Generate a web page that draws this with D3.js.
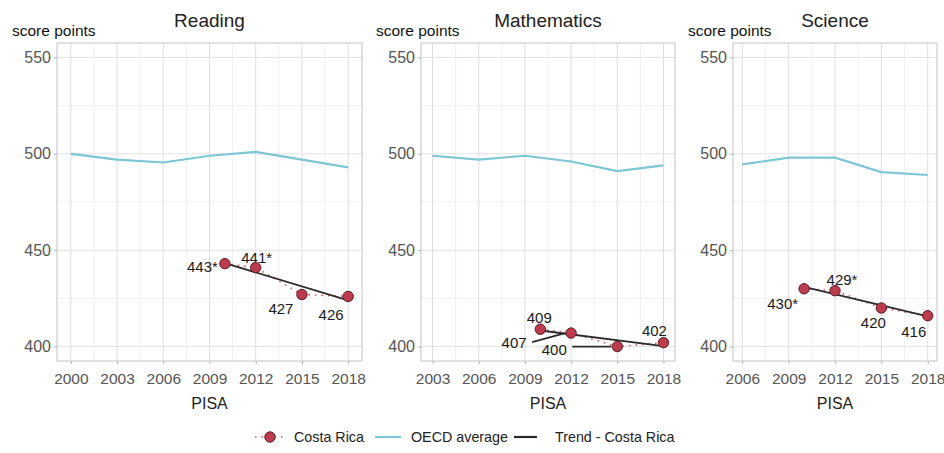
<!doctype html>
<html>
<head>
<meta charset="utf-8">
<title>PISA - Costa Rica</title>
<style>
  body { margin: 0; background: #fff; }
  svg { font-family: "Liberation Sans", Arial, sans-serif; }
</style>
<script src="https://d3js.org/d3.v7.min.js"></script>
</head>
<body>
<svg width="944" height="453"></svg>
<script>
// ---- data ----
var SUBJECTS = ["Reading", "Mathematics", "Science"];

var READING_YEARS = [2000, 2003, 2006, 2009, 2012, 2015, 2018];
var READING_OECD  = [500, 497, 495.5, 499, 501, 497, 493];

var MATH_YEARS = [2003, 2006, 2009, 2012, 2015, 2018];
var MATH_OECD  = [499, 497, 499, 496, 491, 494];

var SCIENCE_YEARS = [2006, 2009, 2012, 2015, 2018];
var SCIENCE_OECD  = [494.5, 498, 498, 490.5, 489];

var CR_YEARS = [2010, 2012, 2015, 2018];
var CR_READING = [443, 441, 427, 426];
var CR_MATH    = [409, 407, 400, 402];
var CR_SCIENCE = [430, 429, 420, 416];
var CR_READING_LABELS = ["443*", "441*", "427", "426"];
var CR_MATH_LABELS    = ["409", "407", "400", "402"];
var CR_SCIENCE_LABELS = ["430*", "429*", "420", "416"];

var Y_TICKS = [400, 450, 500, 550];
var LEGEND_LABELS = ["Costa Rica", "OECD average", "Trend - Costa Rica"];

// ---- layout / style ----
var OECD_COLOR = "#7cc6d6";
var CR_FILL = "#bd3b4d";
var CR_STROKE = "#5b1c26";
var CR_DOT = "#d9505f";
var TREND_COLOR = "#2b2b2b";
var TOP = 43, BOTTOM = 361;
var PANEL_X = [[57, 362], [421, 675], [733, 937]];

// label placement relative to each point: [dx, dy, anchor, leader start dy]
var LABEL_POS = [
  [[-7, 8, "end"], [1, -5, "middle"], [-21, 19, "middle"], [-17, 24, "middle"]],
  [[-1, -6, "middle"], [-57, 15, "middle", -6], [-63, 8, "middle", -8], [-9, -7, "middle"]],
  [[-6, 20, "end"], [7, -6, "middle"], [-8, 20, "middle"], [-14, 21, "middle"]]
];

var panels = [
  { years: READING_YEARS, oecd: READING_OECD, cr: CR_READING, labels: CR_READING_LABELS },
  { years: MATH_YEARS, oecd: MATH_OECD, cr: CR_MATH, labels: CR_MATH_LABELS },
  { years: SCIENCE_YEARS, oecd: SCIENCE_OECD, cr: CR_SCIENCE, labels: CR_SCIENCE_LABELS }
];

var svg = d3.select("svg");

var ys = d3.scaleLinear()
  .domain([400 - 7.5, 550 + 7.5])
  .range([BOTTOM, TOP]);

function linearFit(xs, vs) {
  var mx = d3.mean(xs), my = d3.mean(vs);
  var sxy = d3.sum(xs, function(x, i) { return (x - mx) * (vs[i] - my); });
  var sxx = d3.sum(xs, function(x) { return (x - mx) * (x - mx); });
  var b = sxy / sxx;
  return function(x) { return my + b * (x - mx); };
}

panels.forEach(function(p, k) {
  var lo = d3.min(p.years), hi = d3.max(p.years);
  var pad = (hi - lo) * 0.05;
  var xs = d3.scaleLinear().domain([lo - pad, hi + pad]).range(PANEL_X[k]);
  var g = svg.append("g");
  var x0 = PANEL_X[k][0], x1 = PANEL_X[k][1];

  // minor grid
  var minorX = d3.range(lo - 1.5, hi + 1.6, 3).filter(function(v) { return v > lo - pad && v < hi + pad; });
  g.selectAll(".mx").data(minorX).enter().append("line")
    .attr("x1", function(d) { return xs(d); }).attr("x2", function(d) { return xs(d); })
    .attr("y1", TOP).attr("y2", BOTTOM)
    .attr("stroke", "#ececec").attr("stroke-width", 0.8);
  g.selectAll(".my").data([425, 475, 525]).enter().append("line")
    .attr("x1", x0).attr("x2", x1)
    .attr("y1", function(d) { return ys(d); }).attr("y2", function(d) { return ys(d); })
    .attr("stroke", "#f0f0f0").attr("stroke-width", 0.8);

  // major grid
  g.selectAll(".gx").data(p.years).enter().append("line")
    .attr("x1", function(d) { return xs(d); }).attr("x2", function(d) { return xs(d); })
    .attr("y1", TOP).attr("y2", BOTTOM)
    .attr("stroke", "#dedede").attr("stroke-width", 1);
  g.selectAll(".gy").data(Y_TICKS).enter().append("line")
    .attr("x1", x0).attr("x2", x1)
    .attr("y1", function(d) { return ys(d); }).attr("y2", function(d) { return ys(d); })
    .attr("stroke", "#e2e2e2").attr("stroke-width", 1);

  // border
  g.append("rect")
    .attr("x", x0).attr("y", TOP).attr("width", x1 - x0).attr("height", BOTTOM - TOP)
    .attr("fill", "none").attr("stroke", "#c4c4c4").attr("stroke-width", 1);

  // axes
  var ax = g.append("g").attr("transform", "translate(0," + BOTTOM + ")")
    .call(d3.axisBottom(xs).tickValues(p.years).tickFormat(d3.format("d")).tickSize(3).tickPadding(9));
  var ay = g.append("g").attr("transform", "translate(" + x0 + ",0)")
    .call(d3.axisLeft(ys).tickValues(Y_TICKS).tickSize(3).tickPadding(3));
  [ax, ay].forEach(function(a) {
    a.select(".domain").remove();
    a.selectAll(".tick line").attr("stroke", "#b3b3b3");
    a.selectAll(".tick text").attr("fill", "#555").style("font-size", "15.5px")
      .style("font-family", "'Liberation Sans', Arial, sans-serif");
  });
  ay.selectAll(".tick text").style("font-size", "16px");

  // titles
  g.append("text").attr("x", (x0 + x1) / 2).attr("y", 27).attr("text-anchor", "middle")
    .style("font-size", "19px").attr("fill", "#222").text(SUBJECTS[k]);
  g.append("text").attr("x", x0 - 45).attr("y", 36)
    .style("font-size", "15.5px").attr("fill", "#111").text("score points");
  g.append("text").attr("x", (x0 + x1) / 2).attr("y", 409).attr("text-anchor", "middle")
    .style("font-size", "16px").attr("fill", "#222").text("PISA");

  // OECD average
  var line = d3.line().x(function(d) { return xs(d[0]); }).y(function(d) { return ys(d[1]); });
  g.append("path").datum(d3.zip(p.years, p.oecd))
    .attr("d", line).attr("fill", "none").attr("stroke", OECD_COLOR).attr("stroke-width", 2.2);

  // Costa Rica dotted line
  var cr = d3.zip(CR_YEARS, p.cr);
  g.append("path").datum(cr)
    .attr("d", line).attr("fill", "none").attr("stroke", CR_DOT)
    .attr("stroke-width", 1.6).attr("stroke-dasharray", "1.5,5");

  // trend
  var fit = linearFit(CR_YEARS, p.cr);
  var ends = [d3.min(CR_YEARS), d3.max(CR_YEARS)];
  g.append("path").datum(ends.map(function(x) { return [x, fit(x)]; }))
    .attr("d", line).attr("fill", "none").attr("stroke", TREND_COLOR).attr("stroke-width", 1.8);

  // labels and leaders
  cr.forEach(function(d, i) {
    var lp = LABEL_POS[k][i];
    var px = xs(d[0]), py = ys(d[1]);
    if (lp[3] !== undefined) {
      g.append("line")
        .attr("x1", px + lp[0] + 18).attr("y1", py + lp[1] + lp[3])
        .attr("x2", px - 6).attr("y2", py)
        .attr("stroke", TREND_COLOR).attr("stroke-width", 1.8);
    }
    g.append("text").attr("x", px + lp[0]).attr("y", py + lp[1])
      .attr("text-anchor", lp[2]).style("font-size", "15px").attr("fill", "#1a1a1a")
      .text(p.labels[i]);
  });

  // points
  g.selectAll(".pt").data(cr).enter().append("circle")
    .attr("cx", function(d) { return xs(d[0]); })
    .attr("cy", function(d) { return ys(d[1]); })
    .attr("r", 5.2).attr("fill", CR_FILL).attr("stroke", CR_STROKE).attr("stroke-width", 1);
});

// legend
var lg = svg.append("g").attr("transform", "translate(0,437)");
lg.append("line").attr("x1", 255).attr("x2", 285).attr("y1", 0).attr("y2", 0)
  .attr("stroke", CR_DOT).attr("stroke-width", 1.6).attr("stroke-dasharray", "1.5,5");
lg.append("circle").attr("cx", 270).attr("cy", 0).attr("r", 5.2)
  .attr("fill", CR_FILL).attr("stroke", CR_STROKE);
lg.append("line").attr("x1", 375).attr("x2", 401).attr("y1", 0).attr("y2", 0)
  .attr("stroke", OECD_COLOR).attr("stroke-width", 2.2);
lg.append("line").attr("x1", 514).attr("x2", 537).attr("y1", 0).attr("y2", 0)
  .attr("stroke", TREND_COLOR).attr("stroke-width", 2.2);
var legendX = [294, 411, 555];
lg.selectAll("text").data(LEGEND_LABELS).enter().append("text")
  .attr("x", function(d, i) { return legendX[i]; }).attr("y", 5)
  .style("font-size", "14.3px").attr("fill", "#222").text(function(d) { return d; });
</script>
</body>
</html>
